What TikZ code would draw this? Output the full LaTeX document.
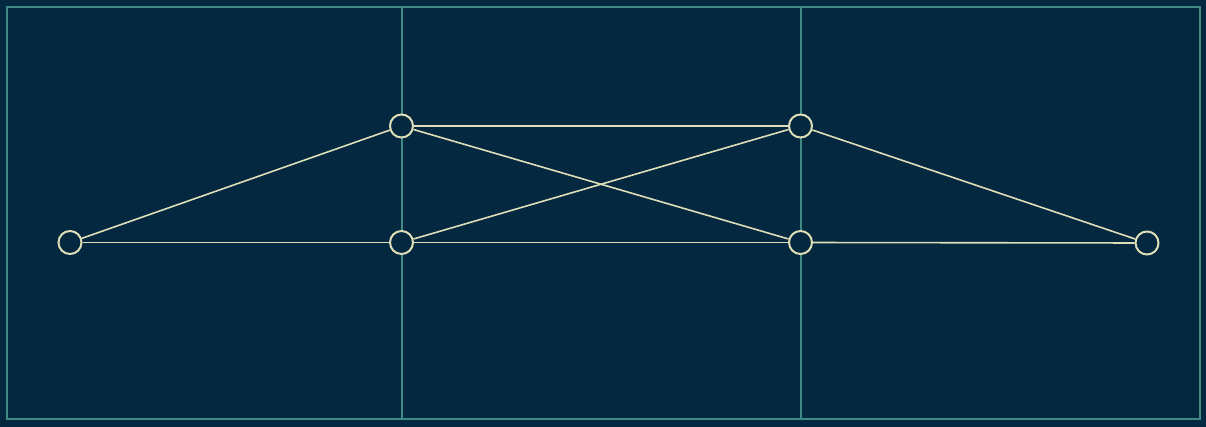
\documentclass[tikz,border=0pt]{standalone}
\definecolor{bg}{HTML}{03283F}
\definecolor{grid}{HTML}{3F8A82}
\definecolor{edge}{HTML}{DEDFB8}
\begin{document}
\begin{tikzpicture}[x=1pt,y=-1pt,
  vtx/.style={circle,draw=edge,fill=bg,line width=2pt,minimum size=23pt,inner sep=0pt},
  link/.style={draw=edge,line width=1.6pt},
  gridline/.style={draw=grid,line width=2pt}]
\fill[bg] (0,0) rectangle (1206,427);
\useasboundingbox (0,0) rectangle (1206,427);
\draw[gridline] (7,7) rectangle (1199.5,418.5);
\coordinate (t1) at (401.5,7); \coordinate (b1) at (401.5,418.5);
\coordinate (t2) at (800.5,7); \coordinate (b2) at (800.5,418.5);
\draw[gridline] (t1) -- (b1);
\draw[gridline] (t2) -- (b2);
\node[vtx] (a) at (70,242.5) {};
\node[vtx] (b) at (401.5,126) {};
\node[vtx] (c) at (401.5,242.5) {};
\node[vtx] (d) at (800.5,126) {};
\node[vtx] (e) at (800.5,242.5) {};
\node[vtx] (f) at (1147,243) {};
\draw[link] (a) -- (b);
\draw[link] (a) -- (c);
\draw[link] (b) -- (d);
\draw[link] (b) -- (e);
\draw[link] (c) -- (d);
\draw[link] (c) -- (e);
\draw[link] (d) -- (f);
\draw[link] (e) -- (f);
\end{tikzpicture}
\end{document}
